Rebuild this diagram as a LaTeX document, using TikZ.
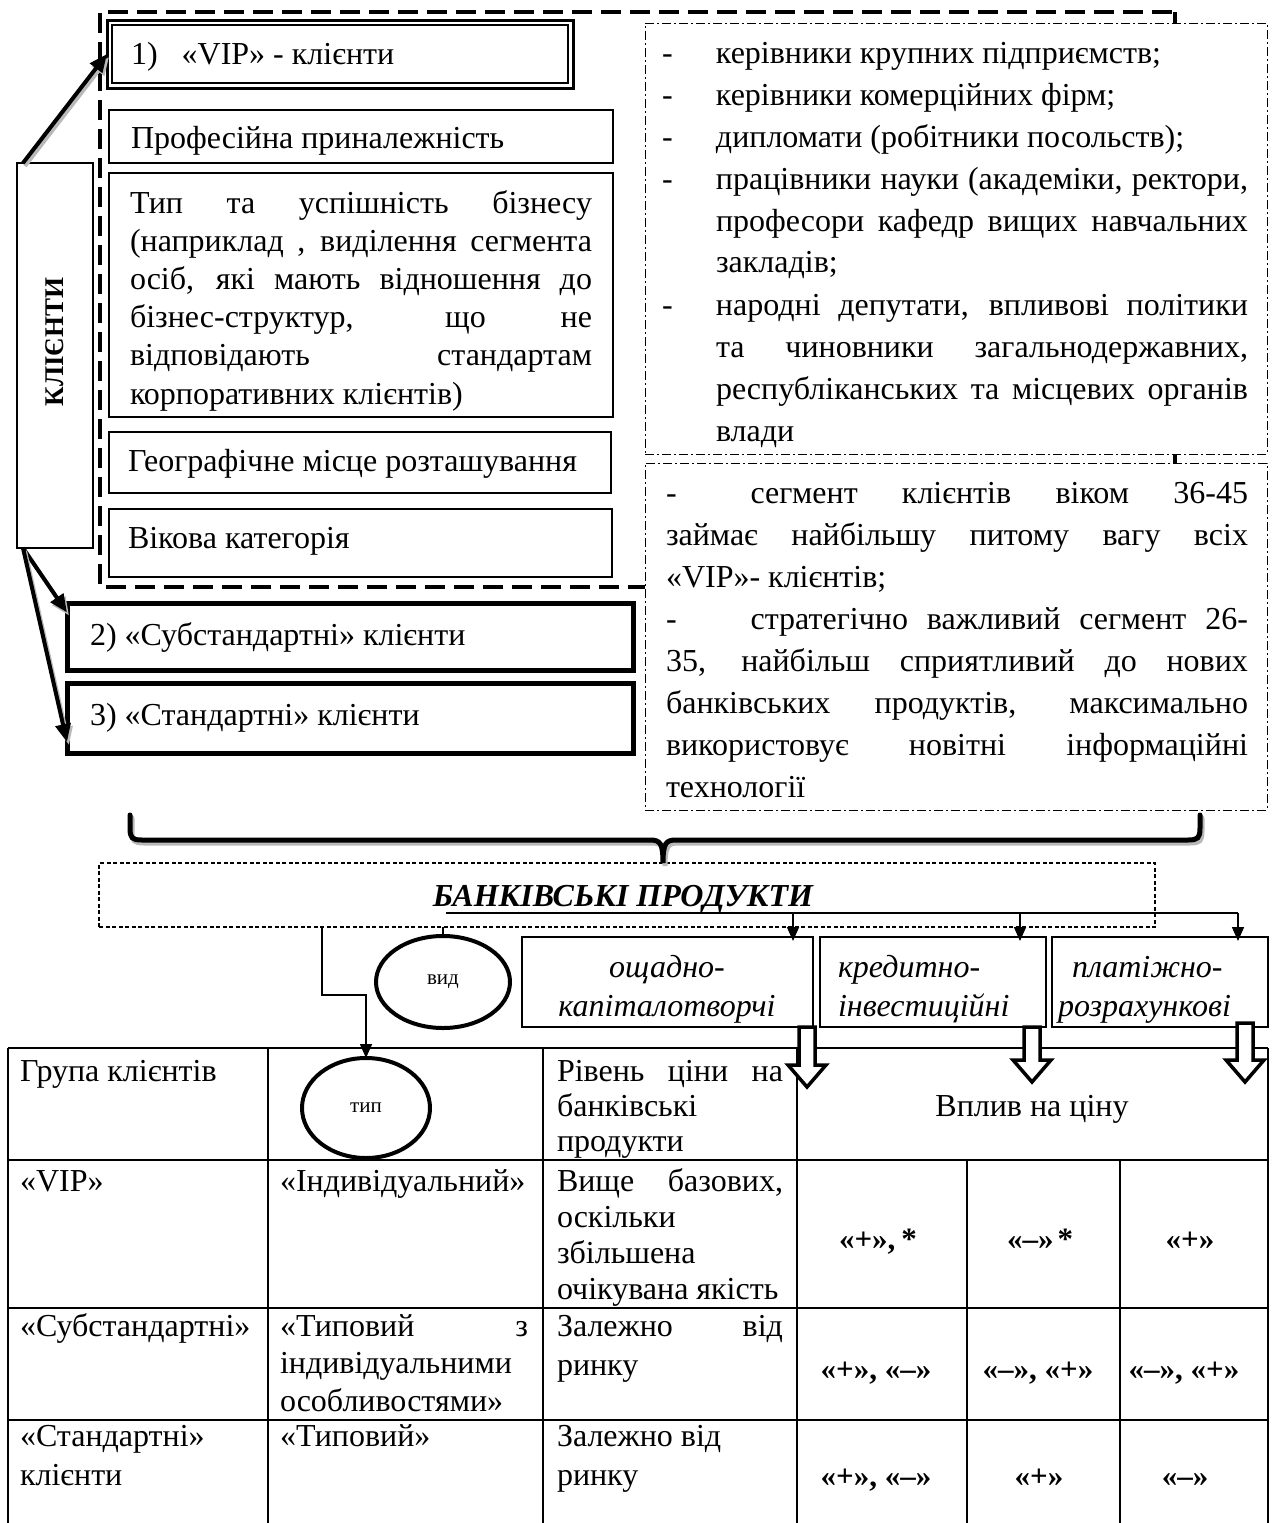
\documentclass[tikz,border=0pt]{standalone}
\usepackage{fontspec}
\setmainfont{Liberation Serif}
\usetikzlibrary{arrows.meta,calc,shapes.geometric}

% justified line of a given width
\newcommand\jl[2]{\makebox[#1pt][s]{#2}}
% top-aligned text block: width, baselineskip, lines
\newcommand\blk[3]{\begin{minipage}[t]{#1pt}\fontsize{32}{#2}\selectfont #3\end{minipage}}
% list dash with its tab
\newcommand\dl{\makebox[54pt][l]{-}}
% hollow block arrow pointing down: top centre, shaft length
\newcommand\hollowarrow[2]{%
  \draw[hollow] (#1) ++(-8,0) -- ++(0,#2) -- ++(-11,0) -- ++(19,22) -- ++(19,-22) -- ++(-11,0) -- ++(0,-#2) -- cycle;}

\begin{document}
\begin{tikzpicture}[x=1pt, y=-1pt,
  every node/.style={inner sep=0pt, outer sep=0pt},
  font=\fontsize{32}{38}\selectfont,
  thinbox/.style={draw, line width=1.3pt, fill=white, anchor=north west},
  heavybox/.style={draw, line width=5pt, fill=white, anchor=north west},
  dotdash/.style={draw, line width=1pt, fill=white, anchor=north west,
    dash pattern=on 9pt off 3pt on 2pt off 3pt},
  frame/.style={line width=4.5pt, dash pattern=on 20pt off 9pt},
  txt/.style={anchor=base west},
  val/.style={anchor=base, font=\fontsize{31}{36}\selectfont\bfseries},
  bigarrow/.style={line width=4pt, -{Triangle[length=18pt,width=15pt]}},
  thinarrow/.style={line width=1.6pt, -{Triangle[length=14pt,width=12pt]}},
  shadowed/.style={draw=gray!55, transform canvas={shift={(2,3)}}},
  hollow/.style={line width=3.5pt, fill=white, line join=miter},
  oval/.style={ellipse, draw, line width=4pt, fill=white, font=\fontsize{21}{24}\selectfont},
  brace/.style={line width=5pt, line cap=round},
  tblline/.style={line width=1.5pt}
]
\fill[white] (0,0) rectangle (1275,1523);
\useasboundingbox (0,0) rectangle (1275,1523);

% ---------- thick dashed frame around the VIP criteria ----------
\draw[frame] (1175,12) -- (1175,587) -- (100,587) -- (100,12) -- cycle;

% ---------- clients column ----------
\node[thinbox, minimum width=76, minimum height=385] (cl) at (17,163) {};
\node[rotate=90, font=\fontsize{27}{30}\selectfont\bfseries] (clt) at (55,342) {КЛІЄНТИ};

% VIP box with double border
\node[draw, line width=3pt, fill=white, anchor=north west, minimum width=466, minimum height=68] (vip) at (107,20) {};
\draw[line width=1.2pt] ($(vip.north west)+(5,5)$) rectangle ($(vip.south east)+(-5,-5)$);
\node[txt] (vipt) at (131,64) {1)\hspace{24pt}«VIP» - клієнти};

\node[thinbox, minimum width=504, minimum height=53] (prof) at (109,110) {};
\node[txt] (proft) at (131,148) {Професійна приналежність};

\node[thinbox, minimum width=504, minimum height=244] (biz) at (109,173) {};
\node[txt] (bizt) at (130,213) {\blk{462}{38.2}{%
\jl{462}{Тип та успішність бізнесу}\\
\jl{462}{(наприклад , виділення сегмента}\\
\jl{462}{осіб, які мають відношення до}\\
\jl{462}{бізнес-структур, що не}\\
\jl{462}{відповідають стандартам}\\
\mbox{корпоративних клієнтів)}}};

\node[thinbox, minimum width=502, minimum height=61] (geo) at (109,432) {};
\node[txt] (geot) at (128,471) {Географічне місце розташування};

\node[thinbox, minimum width=503, minimum height=68] (age) at (109,509) {};
\node[txt] (aget) at (128,548) {Вікова категорія};

\node[heavybox, minimum width=566, minimum height=67] (sub) at (67,603) {};
\node[txt] (subt) at (90,645) {2) «Субстандартні» клієнти};

\node[heavybox, minimum width=566, minimum height=70] (std) at (67,683) {};
\node[txt] (stdt) at (90,725) {3) «Стандартні» клієнти};

% ---------- right-hand description boxes ----------
\node[dotdash, minimum width=622, minimum height=431] (seg1) at (645,23) {};
\node[txt] (seg1t) at (662,63) {\blk{590}{42}{%
\dl\mbox{керівники крупних підприємств;}\\
\dl\mbox{керівники комерційних фірм;}\\
\dl\mbox{дипломати (робітники посольств);}\\
\dl\jl{532}{працівники науки (академіки, ректори,}\\
\hspace*{54pt}\jl{532}{професори кафедр вищих навчальних}\\
\hspace*{54pt}\mbox{закладів;}\\
\dl\jl{532}{народні депутати, впливові політики}\\
\hspace*{54pt}\jl{532}{та чиновники загальнодержавних,}\\
\hspace*{54pt}\jl{532}{республіканських та місцевих органів}\\
\hspace*{54pt}\mbox{влади}}};

\node[dotdash, minimum width=622, minimum height=347] (seg2) at (645,463) {};
\node[txt] (seg2t) at (666,503) {\blk{590}{42}{%
\jl{582}{-\hspace{74pt}сегмент клієнтів віком 36-45}\\
\jl{582}{займає найбільшу питому вагу всіх}\\
\mbox{«VIP»- клієнтів;}\\
\jl{582}{-\hspace{74pt}стратегічно важливий сегмент 26-}\\
\jl{582}{35, найбільш сприятливий до нових}\\
\jl{582}{банківських продуктів, максимально}\\
\jl{582}{використовує новітні інформаційні}\\
\mbox{технології}}};

% ---------- arrows from the clients column ----------
\coordinate (clTop) at ($(cl.north west)+(6,0)$);
\coordinate (clBot) at ($(cl.south west)+(6,0)$);
\draw[bigarrow, shadowed] (clTop) -- (vip.west);
\draw[bigarrow] (clTop) -- (vip.west);
\draw[bigarrow, shadowed] (clBot) -- ($(sub.west)+(0,-24)$);
\draw[bigarrow] (clBot) -- ($(sub.west)+(0,-24)$);
\draw[bigarrow, shadowed] (clBot) -- ($(std.west)+(0,24)$);
\draw[bigarrow] (clBot) -- ($(std.west)+(0,24)$);

% ---------- bank products ----------
\node[draw, line width=1.3pt, dash pattern=on 4pt off 2.5pt, anchor=north west,
      minimum width=1056, minimum height=64] (bank) at (99,863) {};
\node[anchor=base, font=\fontsize{32}{38}\selectfont\bfseries\itshape] (bankt) at (623,906) {БАНКІВСЬКІ ПРОДУКТИ};

% brace gathering the client groups
\coordinate (brL) at (130,815);
\coordinate (brR) at (1200,815);
\coordinate (brM) at ($(bank.north west)+(564,0)$);
\draw[brace, gray!55, transform canvas={shift={(2,3)}}] (brL) -- (130,828) .. controls (130,838) and (132,840) .. (142,840) -- (650,840) .. controls (660,840) and (663,843) .. (brM) .. controls (663,843) and (666,840) .. (676,840) -- (1188,840) .. controls (1198,840) and (1200,838) .. (1200,828) -- (brR);
\draw[brace] (brL) -- (130,828) .. controls (130,838) and (132,840) .. (142,840) -- (650,840) .. controls (660,840) and (663,843) .. (brM) .. controls (663,843) and (666,840) .. (676,840) -- (1188,840) .. controls (1198,840) and (1200,838) .. (1200,828) -- (brR);

% product kinds
\node[thinbox, minimum width=291, minimum height=90] (p1) at (522,937) {};
\node[thinbox, minimum width=226, minimum height=90] (p2) at (820,937) {};
\node[thinbox, minimum width=216, minimum height=90] (p3) at (1052,937) {};
\node[anchor=base, font=\fontsize{32}{38}\selectfont\itshape] (p1a) at (667,977) {ощадно-};
\node[anchor=base, font=\fontsize{32}{38}\selectfont\itshape] (p1b) at (667,1016) {капіталотворчі};
\node[txt, font=\fontsize{32}{38}\selectfont\itshape] (p2a) at (838,977) {кредитно-};
\node[txt, font=\fontsize{32}{38}\selectfont\itshape] (p2b) at (838,1016) {інвестиційні};
\node[txt, font=\fontsize{32}{38}\selectfont\itshape] (p3a) at (1072,977) {платіжно-};
\node[txt, font=\fontsize{32}{38}\selectfont\itshape] (p3b) at (1058,1016) {розрахункові};

% distribution line with arrows to the product kinds
\coordinate (busL) at (446,913);
\draw[line width=1.6pt] (busL) -- ($(p3.north east)+(-30,-24)$);
\draw[thinarrow] ($(p1.north east)+(-20,-24)$) -- ($(p1.north east)+(-20,4)$);
\draw[thinarrow] ($(p2.north east)+(-26,-24)$) -- ($(p2.north east)+(-26,4)$);
\draw[thinarrow] ($(p3.north east)+(-30,-24)$) -- ($(p3.north east)+(-30,4)$);

% kind / type ovals
\node[oval, minimum width=134, minimum height=92] (vid) at (443,982) {вид};
\draw[line width=1.6pt] (vid.north) -- (vid.north |- bank.south);

% ---------- table ----------
\draw[tblline] (8,1048) -- (1268,1048) (8,1160) -- (1268,1160)
               (8,1308) -- (1268,1308) (8,1420) -- (1268,1420);
\foreach \x in {8,268,543,797,1268} \draw[tblline] (\x,1048) -- (\x,1523);
\foreach \x in {967,1120} \draw[tblline] (\x,1160) -- (\x,1523);

\node[oval, minimum width=128, minimum height=100] (tip) at (366,1108) {тип};
\coordinate (tap) at ($(bank.south west)+(223,0)$);
\draw[thinarrow] (tap) -- ++(0,68) -| (tip.north);

\node[txt] (h1) at (20,1081) {Група клієнтів};
\node[txt] (h3) at (557,1081) {\blk{226}{35}{\jl{226}{Рівень ціни на}\\ \mbox{банківські}\\ \mbox{продукти}}};
\node[anchor=base] (h4) at (1032,1116) {Вплив на ціну};

\node[txt] (r1a) at (20,1191) {«VIP»};
\node[txt] (r1b) at (280,1191) {«Індивідуальний»};
\node[txt] (r1c) at (557,1191) {\blk{226}{36.3}{\jl{226}{Вище базових,}\\ \mbox{оскільки}\\ \mbox{збільшена}\\ \mbox{очікувана якість}}};
\node[val] (r1d) at (878,1249) {«+»,\hspace{6pt}*};
\node[val] (r1e) at (1040,1249) {«–»\hspace{4pt}*};
\node[val] (r1f) at (1190,1249) {«+»};

\node[txt] (r2a) at (20,1336) {«Субстандартні»};
\node[txt] (r2b) at (280,1336) {\blk{250}{37.5}{\jl{248}{«Типовий з}\\ \mbox{індивідуальними}\\ \mbox{особливостями»}}};
\node[txt] (r2c) at (557,1336) {\blk{226}{39}{\jl{226}{Залежно від}\\ \mbox{ринку}}};
\node[val] (r2d) at (876,1379) {«+», «–»};
\node[val] (r2e) at (1038,1379) {«–», «+»};
\node[val] (r2f) at (1184,1379) {«–», «+»};

\node[txt] (r3a) at (20,1446) {\blk{240}{39}{\mbox{«Стандартні»}\\ \mbox{клієнти}}};
\node[txt] (r3b) at (280,1446) {«Типовий»};
\node[txt] (r3c) at (557,1446) {\blk{226}{39}{\mbox{Залежно від}\\ \mbox{ринку}}};
\node[val] (r3d) at (876,1486) {«+», «–»};
\node[val] (r3e) at (1039,1486) {«+»};
\node[val] (r3f) at (1185,1486) {«–»};

% hollow arrows from the product kinds into the table
\coordinate (ha1) at ($(p1.south east)+(-6,0)$);
\coordinate (ha2) at ($(p2.south east)+(-14,0)$);
\coordinate (ha3) at ($(p3.south east)+(-23,-4)$);
\hollowarrow{ha1}{38}
\hollowarrow{ha2}{33}
\hollowarrow{ha3}{37}
\end{tikzpicture}
\end{document}
